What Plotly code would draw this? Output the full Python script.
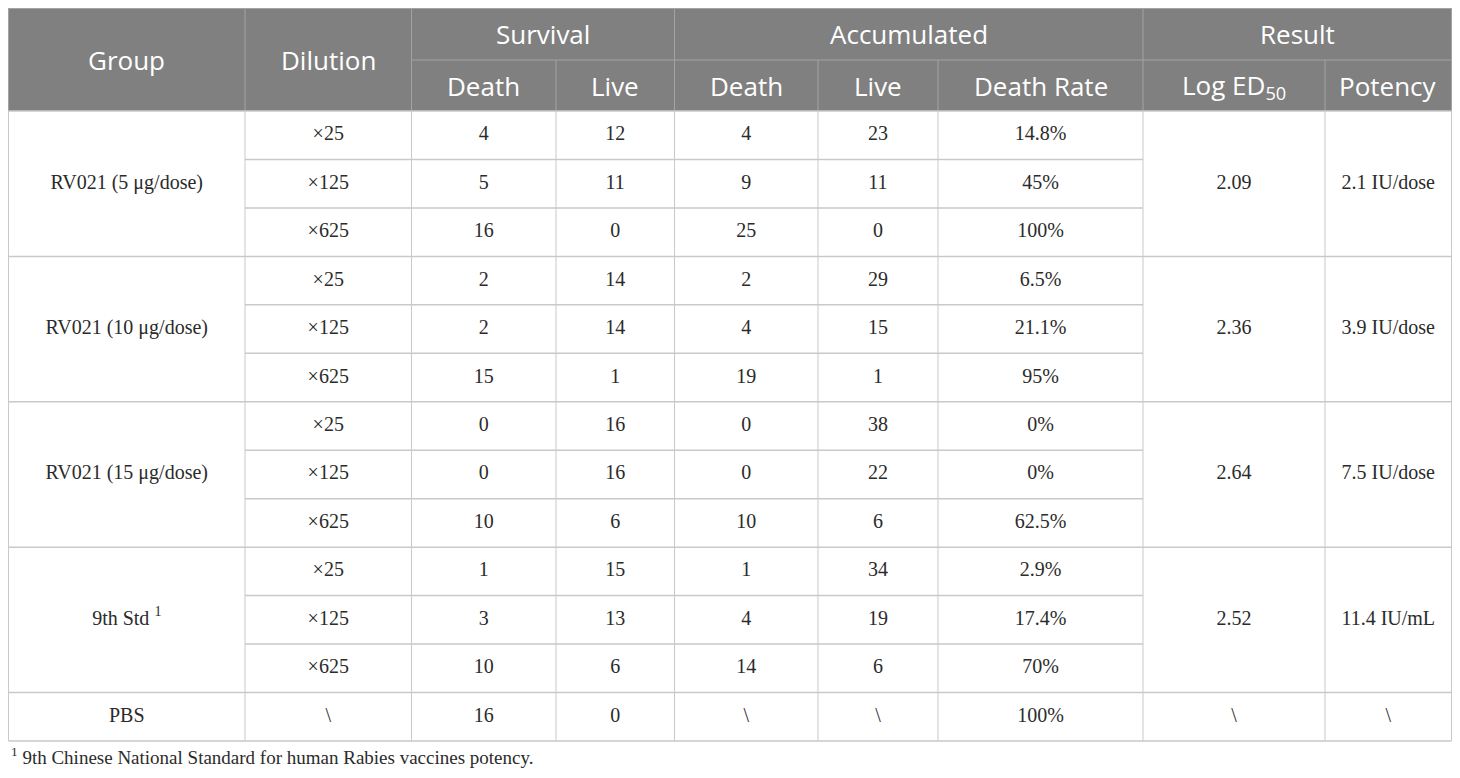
import plotly.graph_objects as go

# ---------------- data ----------------
groups = ["RV021 (5 μg/dose)", "RV021 (10 μg/dose)", "RV021 (15 μg/dose)", "9th Std <sup>1</sup>", "PBS"]
group_sizes = [3, 3, 3, 3, 1]
dilutions = ["×25", "×125", "×625", "×25", "×125", "×625", "×25", "×125", "×625",
             "×25", "×125", "×625", "\\"]
surv_death = ["4", "5", "16", "2", "2", "15", "0", "0", "10", "1", "3", "10", "16"]
surv_live = ["12", "11", "0", "14", "14", "1", "16", "16", "6", "15", "13", "6", "0"]
acc_death = ["4", "9", "25", "2", "4", "19", "0", "0", "10", "1", "4", "14", "\\"]
acc_live = ["23", "11", "0", "29", "15", "1", "38", "22", "6", "34", "19", "6", "\\"]
death_rate = ["14.8%", "45%", "100%", "6.5%", "21.1%", "95%", "0%", "0%", "62.5%",
              "2.9%", "17.4%", "70%", "100%"]
log_ed50 = ["2.09", "2.36", "2.64", "2.52", "\\"]
potency = ["2.1 IU/dose", "3.9 IU/dose", "7.5 IU/dose", "11.4 IU/mL", "\\"]

top_headers = [("Group", 0, 1), ("Dilution", 1, 2), ("Survival", 2, 4),
               ("Accumulated", 4, 7), ("Result", 7, 9)]
sub_headers = ["Death", "Live", "Death", "Live", "Death Rate", "Log ED<sub>50</sub>", "Potency"]
footnote = "<sup>1</sup> 9th Chinese National Standard for human Rabies vaccines potency."

# ---------------- layout constants ----------------
W, H = 1460, 778
PAGE_MARGIN = 8  # browser default body margin
col_widths = [236.5, 166.5, 144.5, 118.5, 143.5, 120, 205, 182, 126.5]
x0 = 8.5
col_edges = [x0]
for w in col_widths:
    col_edges.append(col_edges[-1] + w)
hdr_top, hdr_mid, hdr_bot = 8, 60, 111
n_rows = len(dilutions)
row_h = (741 - hdr_bot) / n_rows
row_edges = [hdr_bot + i * row_h for i in range(n_rows + 1)]

HDR_FILL = "#808080"
HDR_LINE = "#a3a3a3"
GRID = "#c9c9c9"
SANS = "Open Sans"
SERIF = "Liberation Serif"
TXT = "#2b2b2b"
HDR_SIZE = 26
BODY_SIZE = 20

shapes = []
annotations = []

def cx(i, j=None):
    j = i + 1 if j is None else j
    return (col_edges[i] + col_edges[j]) / 2

# header background
shapes.append(dict(type="rect", x0=col_edges[0], x1=col_edges[-1], y0=hdr_top, y1=hdr_bot,
                   fillcolor=HDR_FILL, line=dict(width=0), layer="below"))
shapes.append(dict(type="line", x0=col_edges[0], x1=col_edges[-1], y0=hdr_top + 0.5, y1=hdr_top + 0.5,
                   line=dict(color=HDR_LINE, width=1)))
# header lines
for (_, a, b) in top_headers[1:]:
    shapes.append(dict(type="line", x0=col_edges[a], x1=col_edges[a], y0=hdr_top, y1=hdr_bot,
                       line=dict(color=HDR_LINE, width=1)))
shapes.append(dict(type="line", x0=col_edges[2], x1=col_edges[-1], y0=hdr_mid, y1=hdr_mid,
                   line=dict(color=HDR_LINE, width=1)))
for k in [3, 5, 6, 8]:
    shapes.append(dict(type="line", x0=col_edges[k], x1=col_edges[k], y0=hdr_mid, y1=hdr_bot,
                       line=dict(color=HDR_LINE, width=1)))
for k in [0, len(col_edges) - 1]:
    shapes.append(dict(type="line", x0=col_edges[k], x1=col_edges[k], y0=hdr_top, y1=hdr_bot,
                       line=dict(color=HDR_LINE, width=1)))

# header texts
for (t, a, b) in top_headers:
    if b - a == 1 and a < 2:
        y = (hdr_top + hdr_bot) / 2
    else:
        y = (hdr_top + hdr_mid) / 2
    annotations.append(dict(x=cx(a, b), y=y, text=t, showarrow=False,
                            font=dict(family=SANS, size=HDR_SIZE, color="white"),
                            xanchor="center", yanchor="middle"))
for k, t in enumerate(sub_headers):
    annotations.append(dict(x=cx(k + 2), y=(hdr_mid + hdr_bot) / 2, text=t, showarrow=False,
                            font=dict(family=SANS, size=HDR_SIZE, color="white"),
                            xanchor="center", yanchor="middle"))

# body grid: vertical lines
for k in range(len(col_edges)):
    shapes.append(dict(type="line", x0=col_edges[k], x1=col_edges[k], y0=hdr_bot, y1=row_edges[-1],
                       line=dict(color=GRID, width=1)))
# horizontal lines
start = 0
group_starts = []
for gs in group_sizes:
    group_starts.append(start)
    start += gs
for r in range(n_rows + 1):
    if r in group_starts or r == n_rows:
        xa, xb = col_edges[0], col_edges[-1]
    else:
        xa, xb = col_edges[1], col_edges[7]
    shapes.append(dict(type="line", x0=xa, x1=xb, y0=row_edges[r], y1=row_edges[r],
                       line=dict(color=GRID, width=1.5)))

# body texts (per-row columns)
xs, ys, ts = [], [], []
row_cols = [dilutions, surv_death, surv_live, acc_death, acc_live, death_rate]
for r in range(n_rows):
    yc = (row_edges[r] + row_edges[r + 1]) / 2
    for c, arr in enumerate(row_cols):
        xs.append(cx(c + 1))
        ys.append(yc)
        ts.append(arr[r])
# merged group columns
for g, gs0 in enumerate(group_starts):
    yc = (row_edges[gs0] + row_edges[gs0 + group_sizes[g]]) / 2
    for c, arr in [(0, groups), (7, log_ed50), (8, potency)]:
        xs.append(cx(c))
        ys.append(yc)
        ts.append(arr[g])

fig = go.Figure(go.Scatter(x=xs, y=ys, text=ts, mode="text", hoverinfo="skip",
                           textposition="middle center",
                           textfont=dict(family=SERIF, size=BODY_SIZE, color=TXT)))

annotations.append(dict(x=col_edges[0] + 1, y=H - PAGE_MARGIN - 1, text=footnote, showarrow=False,
                        xanchor="left", yanchor="bottom", borderpad=0,
                        font=dict(family=SERIF, size=19, color=TXT)))

fig.update_layout(
    width=W - 2 * PAGE_MARGIN, height=H - 2 * PAGE_MARGIN,
    margin=dict(l=0, r=0, t=0, b=0),
    paper_bgcolor="white", plot_bgcolor="white", showlegend=False,
    xaxis=dict(range=[PAGE_MARGIN, W - PAGE_MARGIN], visible=False, fixedrange=True),
    yaxis=dict(range=[H - PAGE_MARGIN, PAGE_MARGIN], visible=False, fixedrange=True),
    shapes=shapes, annotations=annotations,
)
fig.write_html("out.html")
